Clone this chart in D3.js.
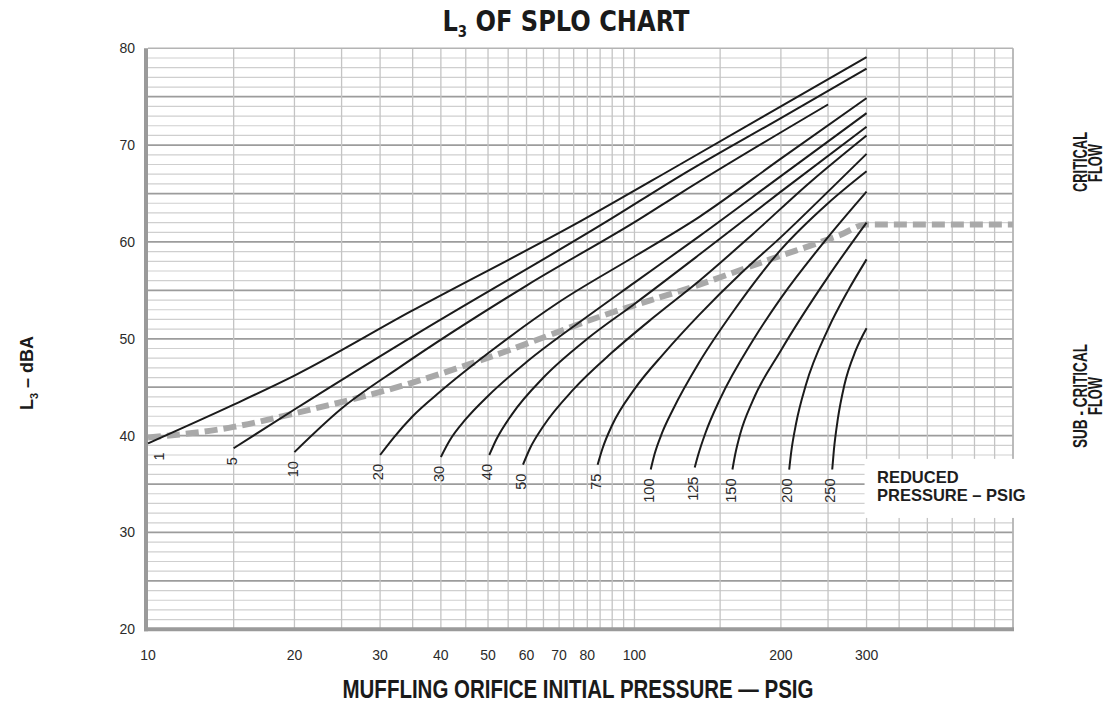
<!DOCTYPE html>
<html>
<head>
<meta charset="utf-8">
<script src="https://cdn.jsdelivr.net/npm/d3@7"></script>
<style>
  html, body { margin: 0; padding: 0; background: #fff; }
  svg { display: block; }
  text { font-family: "Liberation Sans", Arial, Helvetica, sans-serif; }
  .cond { font-family: "Liberation Sans Narrow", "DejaVu Sans Condensed", "Roboto Condensed", "Liberation Sans", Arial, sans-serif; font-stretch: condensed; }
</style>
</head>
<body>
<svg id="chart" width="1109" height="706"></svg>
<script>
// Axis tick labels
const pressureTicks = [10, 20, 30, 40, 50, 60, 70, 80, 100, 200, 300];
const dbaTicks = [20, 30, 40, 50, 60, 70, 80];

// Grid positions (psig, dBA)
const pressureGrid = [15, 20, 25, 30, 35, 40, 45, 50, 55, 60, 65, 70, 75, 80, 85, 90, 95,
                      100, 150, 200, 250, 300, 350, 400, 450, 500, 550];
const dbaGrid = d3.range(21, 80, 1);

// L3 curves: [initial pressure psig, L3 dBA] for each reduced pressure
const curve1   = [[10, 39.2], [15, 43.2], [20, 46.2], [34.6, 52.8], [78.5, 62.3], [124, 68.0], [200, 74.0], [300, 79.1]];
const curve5   = [[15, 38.7], [20, 42.7], [34.6, 50.1], [89.6, 62.4], [124, 66.8], [200, 72.8], [300, 77.9]];
const curve10  = [[20, 38.3], [25, 42.8], [33, 47.1], [60, 55.5], [102, 62.3], [124, 65.0], [250, 74.2]];
const curve20  = [[30, 38.0], [32, 39.8], [35, 42.0], [40, 44.6], [50, 48.5], [70, 53.8], [100, 58.5], [136, 62.6], [200, 68.6], [300, 74.85]];
const curve30  = [[40, 37.8], [41.7, 39.5], [45, 41.7], [50, 44.1], [60, 47.6], [80, 52.3], [100, 55.8], [136, 60.6], [200, 66.8], [300, 73.3]];
const curve40  = [[50.3, 38.0], [52, 39.6], [56, 42.2], [65, 46.0], [80, 50.0], [100, 53.6], [136, 58.7], [200, 65.2], [300, 71.9]];
const curve50  = [[59, 37.0], [61, 38.7], [65, 41.0], [75, 44.8], [90, 48.6], [110, 52.3], [136, 56.0], [175, 60.8], [230, 66.2], [300, 71.0]];
const curve75  = [[84, 37.0], [86, 38.7], [90, 41.1], [100, 44.8], [115, 48.5], [136, 52.5], [165, 56.7], [200, 60.5], [250, 65.2], [300, 69.1]];
const curve100 = [[108, 36.5], [110, 38.1], [114, 40.3], [120, 42.7], [136, 47.6], [160, 52.9], [200, 59.2], [250, 64.0], [300, 67.3]];
const curve125 = [[133, 36.7], [135, 37.9], [140, 40.3], [150, 43.8], [175, 49.8], [200, 54.2], [250, 60.5], [300, 65.2]];
const curve150 = [[159, 36.5], [161, 38.0], [165, 40.2], [175, 43.6], [200, 48.8], [250, 56.4], [300, 62.0]];
const curve200 = [[208, 36.5], [210, 38.3], [215, 41.3], [225, 45.2], [250, 51.0], [275, 55.0], [300, 58.2]];
const curve250 = [[255, 36.5], [257, 38.5], [262, 41.8], [270, 45.2], [285, 48.8], [300, 51.1]];

const reducedLabels = ["1", "5", "10", "20", "30", "40", "50", "75", "100", "125", "150", "200", "250"];
const curveSeries = [curve1, curve5, curve10, curve20, curve30, curve40, curve50,
                     curve75, curve100, curve125, curve150, curve200, curve250];

// Boundary between critical and sub-critical flow
const criticalBoundary = [[10, 39.8], [15, 40.9], [20, 42.3], [34.6, 45.4], [53, 48.5], [85, 52.3],
                          [136, 55.6], [190, 58.2], [264, 60.7], [300, 61.8], [600, 61.8]];

const svg = d3.select("#chart");
const x = d3.scaleLog().domain([10, 600]).range([148, 1013]);
const y = d3.scaleLinear().domain([20, 80]).range([629.3, 48.3]);

// Grid
const grid = svg.append("g");
grid.selectAll("line.h").data(dbaGrid).join("line")
  .attr("x1", x(10)).attr("x2", x(600))
  .attr("y1", d => y(d)).attr("y2", d => y(d))
  .attr("stroke", d => d % 5 === 0 ? "#9c9c9c" : "#cfcfcf")
  .attr("stroke-width", d => d % 5 === 0 ? 1.8 : 1.2);
grid.selectAll("line.v").data(pressureGrid).join("line")
  .attr("x1", d => x(d)).attr("x2", d => x(d))
  .attr("y1", y(80)).attr("y2", y(20))
  .attr("stroke", "#c4c4c4").attr("stroke-width", 1.3);

// Frame: thin top/right, heavy left/bottom
svg.append("line").attr("x1", x(10)).attr("x2", x(600)).attr("y1", y(80)).attr("y2", y(80))
  .attr("stroke", "#b4b4b4").attr("stroke-width", 1.5);
svg.append("line").attr("x1", x(600)).attr("x2", x(600)).attr("y1", y(80)).attr("y2", y(20))
  .attr("stroke", "#b4b4b4").attr("stroke-width", 1.8);
svg.append("line").attr("x1", x(10) - 2).attr("x2", x(10) - 2).attr("y1", y(80)).attr("y2", y(20) + 2)
  .attr("stroke", "#9a9a9a").attr("stroke-width", 4);
svg.append("line").attr("x1", x(10) - 4).attr("x2", x(600) + 1).attr("y1", y(20)).attr("y2", y(20))
  .attr("stroke", "#9a9a9a").attr("stroke-width", 4);

// Label panel for reduced pressure caption
svg.append("rect").attr("x", x(300) - 2).attr("y", y(37.6)).attr("width", 180).attr("height", y(31.5) - y(37.6))
  .attr("fill", "#fff");

// Boundary (dashed)
const lineGen = d3.line().x(d => x(d[0])).y(d => y(d[1])).curve(d3.curveMonotoneX);
svg.append("path").datum(criticalBoundary)
  .attr("d", lineGen).attr("fill", "none")
  .attr("stroke", "#a9a9a9").attr("stroke-width", 6).attr("stroke-dasharray", "13,6");

// Curves
svg.append("g").selectAll("path").data(curveSeries).join("path")
  .attr("d", lineGen).attr("fill", "none")
  .attr("stroke", "#1b1b1b").attr("stroke-width", 2);

// Curve labels (rotated, below each curve start)
svg.append("g").selectAll("text").data(curveSeries).join("text")
  .attr("transform", d => {
    const px = Math.max(x(d[0][0]) - 2, 159);
    const py = y(d[0][1]) + 9;
    return `translate(${px},${py}) rotate(-90)`;
  })
  .attr("text-anchor", "end").attr("dy", "0.35em")
  .attr("font-size", 14.5).attr("fill", "#2a2a2a")
  .text((d, i) => reducedLabels[i]);

// Reduced pressure caption
const cap = svg.append("text").attr("x", 877).attr("font-size", 16.5).attr("font-weight", "bold").attr("fill", "#1e1e1e");
cap.append("tspan").attr("x", 877).attr("y", 483).text("REDUCED");
cap.append("tspan").attr("x", 877).attr("y", 500.5).text("PRESSURE – PSIG");

// Y tick labels
svg.append("g").selectAll("text").data(dbaTicks).join("text")
  .attr("x", 135).attr("y", d => y(d)).attr("dy", "0.35em")
  .attr("text-anchor", "end").attr("font-size", 14).attr("fill", "#2b2b2b")
  .text(d => d);

// X tick labels
svg.append("g").selectAll("text").data(pressureTicks).join("text")
  .attr("x", d => x(d)).attr("y", 660)
  .attr("text-anchor", "middle").attr("font-size", 14).attr("fill", "#2b2b2b")
  .text(d => d);

// Title
const title = svg.append("text").attr("class", "cond").attr("x", 566).attr("y", 31)
  .attr("text-anchor", "middle").attr("font-size", 29).attr("font-weight", "bold").attr("fill", "#1a1a1a")
  .attr("textLength", 247).attr("lengthAdjust", "spacingAndGlyphs");
title.append("tspan").text("L");
title.append("tspan").attr("font-size", 16).attr("dy", 6).text("3");
title.append("tspan").attr("dy", -6).text(" OF SPLO CHART");

// X axis title
svg.append("text").attr("x", 578).attr("y", 698).attr("text-anchor", "middle")
  .attr("font-size", 25).attr("font-weight", "bold").attr("fill", "#1a1a1a")
  .attr("textLength", 471).attr("lengthAdjust", "spacingAndGlyphs")
  .text("MUFFLING ORIFICE INITIAL PRESSURE — PSIG");

// Y axis title
const yt = svg.append("text").attr("transform", "translate(33,373) rotate(-90)")
  .attr("text-anchor", "middle").attr("font-size", 18).attr("font-weight", "bold").attr("fill", "#1a1a1a");
yt.append("tspan").text("L");
yt.append("tspan").attr("font-size", 11).attr("dy", 5).text("3");
yt.append("tspan").attr("dy", -5).text(" – dBA");

// Flow regime labels, one text element per line
function regimeLine(str, bx, cy, len) {
  svg.append("text")
    .attr("transform", `translate(${bx},${cy}) rotate(-90)`)
    .attr("text-anchor", "middle").attr("font-size", 19.5).attr("font-weight", "bold").attr("fill", "#1a1a1a")
    .attr("textLength", len).attr("lengthAdjust", "spacingAndGlyphs")
    .text(str);
}
regimeLine("CRITICAL", 1087, 162, 60);
regimeLine("FLOW", 1102, 163, 38);
regimeLine("SUB - CRITICAL", 1087, 396, 104);
regimeLine("FLOW", 1102, 396, 38);
</script>
</body>
</html>
